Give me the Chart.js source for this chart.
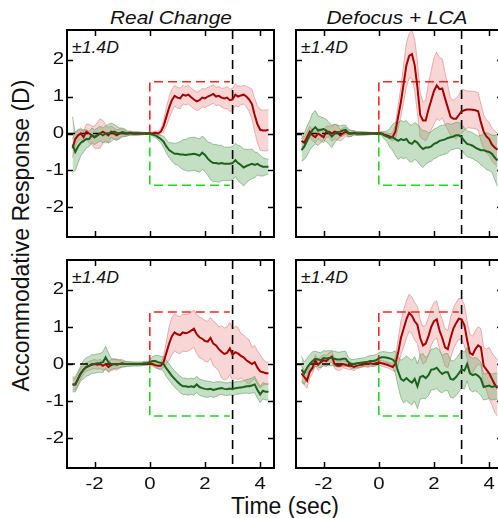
<!DOCTYPE html>
<html>
<head>
<meta charset="utf-8">
<script src="https://cdn.jsdelivr.net/npm/chart.js@4.4.1/dist/chart.umd.min.js"></script>
<style>
  html, body { margin: 0; padding: 0; background: #fff; overflow: hidden; }
  body { width: 498px; height: 518px; position: relative; font-family: "Liberation Sans", Arial, sans-serif; }
  canvas { position: absolute; }
  .txt { position: absolute; color: #111; white-space: nowrap; line-height: 1; }
  .title { font-style: italic; font-size: 19px; text-align: center; width: 220px; transform: scaleX(1.1); }
  .amp { font-style: italic; font-size: 16px; transform-origin: left top; transform: scaleX(1.1); }
  .axis { font-size: 23px; }
</style>
</head>
<body>
<div class="txt title" style="left:61px; top:8px;">Real Change</div>
<div class="txt title" style="left:287px; top:8px;">Defocus + LCA</div>
<div class="txt amp" style="left:72px; top:40px;">±1.4D</div>
<div class="txt amp" style="left:301px; top:40px;">±1.4D</div>
<div class="txt amp" style="left:72px; top:270px;">±1.4D</div>
<div class="txt amp" style="left:301px; top:270px;">±1.4D</div>
<div class="txt axis" style="left:-129px; top:230px; width:300px; text-align:center; transform: rotate(-90deg);">Accommodative Response (D)</div>
<div class="txt axis" style="left:185px; top:495px; width:200px; text-align:center;">Time (sec)</div>

<canvas id="p1" width="251" height="239" style="left:27px; top:26px;"></canvas>
<canvas id="p2" width="251" height="239" style="left:256px; top:26px;"></canvas>
<canvas id="p3" width="251" height="240" style="left:27px; top:256px;"></canvas>
<canvas id="p4" width="251" height="240" style="left:256px; top:256px;"></canvas>

<script>
// time axis (sec), one sample every 0.1 s
const TIME = [
  -2.8, -2.7, -2.6, -2.5, -2.4, -2.3, -2.2, -2.1,
  -2.0, -1.9, -1.8, -1.7, -1.6, -1.5, -1.4, -1.3, -1.2, -1.1,
  -1.0, -0.9, -0.8, -0.7, -0.6, -0.5, -0.4, -0.3, -0.2, -0.1,
  0.0, 0.1, 0.2, 0.3, 0.4, 0.5, 0.6, 0.7, 0.8, 0.9,
  1.0, 1.1, 1.2, 1.3, 1.4, 1.5, 1.6, 1.7, 1.8, 1.9,
  2.0, 2.1, 2.2, 2.3, 2.4, 2.5, 2.6, 2.7, 2.8, 2.9,
  3.0, 3.1, 3.2, 3.3, 3.4, 3.5, 3.6, 3.7, 3.8, 3.9,
  4.0, 4.1, 4.2, 4.3
];

const X_TICKS = [-2, 0, 2, 4];
const Y_TICKS = [-2, -1, 0, 1, 2];

// stimulus step
const STEP_ON = 0;
const STEP_OFF = 3;
const STEP_AMP = 1.4;
const BOX_END = 2.9;

// Real Change, top
const P1_RED = [
  -0.4, -0.15, -0.05, 0.0, -0.1, 0.05, 0.0, -0.05,
  -0.1, -0.05, 0.0, 0.05, 0.0, -0.05, 0.05, 0.0, -0.05, 0.0,
  0.03, 0.0, 0.0, 0.02, 0.0, 0.0, 0.0, 0.0, 0.0, 0.0,
  0.0, 0.0, 0.02, 0.0, 0.05, 0.2, 0.45, 0.7, 0.9, 1.02,
  0.97, 0.95, 1.05, 1.02, 1.05, 0.98, 0.92, 0.87, 0.9, 0.97,
  0.95, 1.0, 1.03, 1.07, 1.0, 1.02, 0.97, 0.95, 0.97, 0.9,
  0.92, 1.05, 1.0, 1.03, 1.05, 1.0, 0.92, 0.8, 0.5, 0.25,
  0.1, 0.08, 0.08, 0.1
];
const P1_RED_SEM = [
  0.25, 0.2, 0.15, 0.15, 0.15, 0.2, 0.25, 0.25,
  0.3, 0.35, 0.4, 0.3, 0.25, 0.2, 0.15, 0.15, 0.15, 0.12,
  0.1, 0.08, 0.06, 0.05, 0.05, 0.05, 0.05, 0.04, 0.03, 0.03,
  0.02, 0.04, 0.05, 0.06, 0.08, 0.15, 0.25, 0.3, 0.3, 0.28,
  0.28, 0.28, 0.25, 0.25, 0.25, 0.25, 0.25, 0.25, 0.25, 0.25,
  0.25, 0.25, 0.25, 0.25, 0.25, 0.25, 0.25, 0.28, 0.3, 0.3,
  0.3, 0.3, 0.28, 0.25, 0.25, 0.28, 0.32, 0.4, 0.45, 0.5,
  0.55, 0.55, 0.55, 0.55
];
const P1_GREEN = [
  -0.3, -0.5, -0.35, -0.25, -0.2, -0.15, -0.15, -0.05,
  -0.1, -0.05, 0.0, -0.05, 0.0, 0.0, 0.03, 0.05, 0.02, 0.0,
  0.03, 0.02, 0.0, 0.0, 0.0, 0.0, 0.0, 0.0, 0.0, 0.0,
  0.0, -0.03, -0.05, -0.1, -0.15, -0.22, -0.35, -0.45, -0.5, -0.55,
  -0.55, -0.57, -0.57, -0.58, -0.57, -0.56, -0.55, -0.57, -0.6, -0.52,
  -0.58, -0.68, -0.75, -0.8, -0.8, -0.82, -0.8, -0.82, -0.82, -0.82,
  -0.8, -0.72, -0.8, -0.85, -0.92, -0.88, -0.85, -0.82, -0.85, -0.82,
  -0.87, -0.9, -0.9, -0.9
];
const P1_GREEN_SEM = [
  0.75, 0.5, 0.45, 0.35, 0.3, 0.25, 0.2, 0.2,
  0.2, 0.2, 0.2, 0.2, 0.2, 0.25, 0.25, 0.2, 0.18, 0.15,
  0.12, 0.1, 0.06, 0.05, 0.04, 0.04, 0.03, 0.03, 0.03, 0.02,
  0.02, 0.04, 0.06, 0.08, 0.1, 0.15, 0.18, 0.2, 0.25, 0.28,
  0.3, 0.35, 0.4, 0.42, 0.45, 0.45, 0.45, 0.45, 0.45, 0.45,
  0.45, 0.45, 0.5, 0.5, 0.5, 0.5, 0.48, 0.45, 0.45, 0.45,
  0.45, 0.45, 0.48, 0.5, 0.5, 0.45, 0.42, 0.4, 0.35, 0.3,
  0.28, 0.25, 0.22, 0.2
];

// Defocus + LCA, top
const P2_RED = [
  -0.2, -0.25, -0.1, 0.05, -0.05, -0.1, 0.0, -0.05,
  -0.1, 0.05, 0.05, 0.0, 0.05, 0.03, -0.05, 0.0, 0.05, 0.0,
  0.0, 0.02, 0.0, 0.0, 0.0, 0.0, 0.0, 0.0, 0.0, 0.0,
  0.0, 0.0, -0.03, -0.05, -0.08, -0.1, 0.05, 0.45, 0.85, 1.35,
  1.85, 2.1, 2.15, 1.85, 1.25, 0.5, 0.35, 0.35, 0.65, 0.9,
  1.15, 1.3, 1.2, 1.22, 0.95, 0.7, 0.45, 0.4, 0.4, 0.5,
  0.6, 0.63, 0.65, 0.65, 0.64, 0.63, 0.6, 0.3, 0.05, -0.08,
  -0.15, -0.3, -0.38, -0.44
];
const P2_RED_SEM = [
  0.15, 0.15, 0.15, 0.15, 0.15, 0.15, 0.15, 0.15,
  0.15, 0.15, 0.15, 0.2, 0.2, 0.2, 0.15, 0.15, 0.12, 0.1,
  0.08, 0.06, 0.05, 0.05, 0.05, 0.04, 0.04, 0.03, 0.03, 0.02,
  0.02, 0.04, 0.05, 0.06, 0.08, 0.1, 0.2, 0.3, 0.4, 0.5,
  0.6, 0.6, 0.65, 0.7, 0.7, 0.6, 0.5, 0.55, 0.7, 0.8,
  0.9, 0.9, 0.85, 0.8, 0.7, 0.6, 0.5, 0.5, 0.55, 0.55,
  0.6, 0.55, 0.5, 0.5, 0.5, 0.5, 0.5, 0.5, 0.45, 0.45,
  0.45, 0.45, 0.45, 0.45
];
const P2_GREEN = [
  -0.45, -0.35, -0.2, -0.05, 0.1, 0.17, 0.08, 0.1,
  0.12, 0.08, 0.0, -0.08, 0.0, 0.03, 0.05, 0.08, 0.1, 0.02,
  0.0, 0.02, 0.0, 0.0, 0.0, 0.0, 0.0, 0.0, 0.0, 0.0,
  0.0, 0.0, -0.05, -0.08, -0.12, -0.1, -0.15, -0.2, -0.15, -0.18,
  -0.15, -0.25, -0.28, -0.2, -0.25, -0.35, -0.42, -0.38, -0.38, -0.35,
  -0.28, -0.25, -0.2, -0.18, -0.16, -0.12, -0.1, -0.08, -0.05, -0.05,
  -0.1, -0.2, -0.28, -0.3, -0.33, -0.38, -0.42, -0.45, -0.45, -0.48,
  -0.5, -0.55, -0.65, -0.73
];
const P2_GREEN_SEM = [
  0.3, 0.35, 0.4, 0.4, 0.45, 0.45, 0.4, 0.35,
  0.3, 0.3, 0.3, 0.3, 0.25, 0.2, 0.15, 0.15, 0.12, 0.1,
  0.08, 0.05, 0.05, 0.05, 0.04, 0.04, 0.03, 0.03, 0.03, 0.02,
  0.02, 0.05, 0.1, 0.15, 0.25, 0.35, 0.45, 0.5, 0.5, 0.5,
  0.5, 0.5, 0.5, 0.5, 0.5, 0.5, 0.5, 0.45, 0.4, 0.4,
  0.4, 0.4, 0.4, 0.4, 0.4, 0.4, 0.35, 0.35, 0.35, 0.35,
  0.35, 0.35, 0.35, 0.35, 0.35, 0.35, 0.35, 0.4, 0.45, 0.5,
  0.5, 0.5, 0.6, 0.7
];

// Real Change, bottom
const P3_RED = [
  -0.55, -0.55, -0.4, -0.25, -0.15, -0.08, -0.05, -0.02,
  0.0, -0.02, 0.0, -0.05, 0.0, -0.08, -0.03, 0.0, -0.02, 0.0,
  0.02, 0.0, 0.0, 0.0, 0.0, 0.0, 0.0, 0.0, 0.0, 0.0,
  0.0, 0.0, -0.03, -0.05, -0.05, 0.05, 0.3, 0.55, 0.75, 0.85,
  0.8, 0.78, 0.85, 0.83, 0.85, 0.9, 0.95, 0.8, 0.72, 0.68,
  0.62, 0.6, 0.7, 0.55, 0.5, 0.4, 0.33, 0.27, 0.3, 0.42,
  0.25, 0.32, 0.28, 0.22, 0.18, 0.1, 0.05, 0.0, 0.05, -0.1,
  -0.2, -0.22, -0.25, -0.25
];
const P3_RED_SEM = [
  0.15, 0.15, 0.15, 0.15, 0.12, 0.12, 0.12, 0.12,
  0.12, 0.12, 0.12, 0.12, 0.15, 0.15, 0.15, 0.15, 0.15, 0.12,
  0.1, 0.08, 0.06, 0.05, 0.05, 0.05, 0.05, 0.04, 0.04, 0.03,
  0.02, 0.06, 0.08, 0.08, 0.08, 0.15, 0.3, 0.45, 0.5, 0.5,
  0.5, 0.5, 0.5, 0.5, 0.5, 0.5, 0.5, 0.52, 0.55, 0.55,
  0.55, 0.55, 0.55, 0.6, 0.6, 0.6, 0.7, 0.7, 0.7, 0.7,
  0.7, 0.7, 0.7, 0.6, 0.6, 0.6, 0.6, 0.45, 0.45, 0.45,
  0.45, 0.35, 0.3, 0.3
];
const P3_GREEN = [
  -0.55, -0.55, -0.4, -0.25, -0.15, -0.08, -0.05, 0.0,
  0.0, 0.02, 0.03, 0.05, 0.18, 0.05, 0.0, 0.0, 0.0, 0.0,
  0.0, 0.0, 0.0, 0.0, 0.0, 0.0, 0.0, 0.0, 0.02, 0.02,
  0.05, 0.08, 0.08, 0.05, 0.03, 0.0, -0.12, -0.22, -0.32, -0.4,
  -0.48, -0.55, -0.6, -0.6, -0.62, -0.6, -0.62, -0.55, -0.62, -0.65,
  -0.67, -0.68, -0.67, -0.7, -0.68, -0.66, -0.65, -0.67, -0.68, -0.66,
  -0.68, -0.65, -0.64, -0.63, -0.62, -0.6, -0.6, -0.58, -0.55, -0.7,
  -0.82, -0.72, -0.75, -0.75
];
const P3_GREEN_SEM = [
  0.2, 0.2, 0.2, 0.2, 0.25, 0.25, 0.25, 0.25,
  0.25, 0.25, 0.25, 0.28, 0.3, 0.25, 0.15, 0.12, 0.12, 0.1,
  0.08, 0.07, 0.06, 0.06, 0.05, 0.05, 0.05, 0.05, 0.05, 0.05,
  0.05, 0.12, 0.15, 0.18, 0.18, 0.2, 0.22, 0.22, 0.22, 0.22,
  0.22, 0.22, 0.22, 0.22, 0.22, 0.22, 0.22, 0.22, 0.22, 0.22,
  0.22, 0.22, 0.2, 0.2, 0.2, 0.18, 0.17, 0.17, 0.17, 0.17,
  0.17, 0.17, 0.17, 0.17, 0.17, 0.18, 0.2, 0.2, 0.22, 0.22,
  0.22, 0.22, 0.22, 0.22
];

// Defocus + LCA, bottom
const P4_RED = [
  -0.25, -0.35, -0.45, -0.2, -0.1, 0.1, -0.02, 0.05,
  0.1, 0.08, 0.15, 0.2, 0.0, -0.05, -0.05, 0.0, -0.02, -0.05,
  -0.05, -0.08, -0.05, -0.03, -0.02, 0.0, 0.0, 0.02, 0.0, 0.02,
  0.04, 0.02, 0.0, -0.02, -0.05, -0.08, 0.0, 0.3, 0.7, 0.95,
  1.2, 1.38, 1.3, 1.15, 1.05, 0.7, 0.5, 0.55, 0.75, 1.0,
  1.15, 1.2, 0.9, 0.7, 0.45, 0.4, 0.7, 0.95, 1.1, 1.22,
  1.2, 1.05, 0.65, 0.3, 0.25, 0.4, 0.5, 0.45, -0.05, -0.15,
  -0.25, -0.4, -0.55, -0.65
];
const P4_RED_SEM = [
  0.2, 0.2, 0.2, 0.18, 0.15, 0.15, 0.15, 0.15,
  0.15, 0.15, 0.15, 0.15, 0.12, 0.12, 0.12, 0.1, 0.1, 0.1,
  0.1, 0.1, 0.08, 0.08, 0.06, 0.06, 0.06, 0.06, 0.06, 0.05,
  0.05, 0.08, 0.08, 0.08, 0.08, 0.1, 0.2, 0.35, 0.45, 0.5,
  0.5, 0.5, 0.5, 0.5, 0.5, 0.5, 0.5, 0.5, 0.5, 0.5,
  0.5, 0.5, 0.5, 0.5, 0.5, 0.5, 0.55, 0.55, 0.55, 0.55,
  0.55, 0.55, 0.5, 0.5, 0.5, 0.5, 0.5, 0.5, 0.5, 0.55,
  0.7, 0.7, 0.75, 0.75
];
const P4_GREEN = [
  -0.15, -0.25, -0.1, 0.0, 0.08, 0.14, 0.12, 0.1,
  0.16, 0.15, 0.16, 0.16, 0.14, 0.12, 0.12, 0.14, 0.14, 0.05,
  0.0, 0.0, 0.02, 0.03, 0.04, 0.05, 0.06, 0.08, 0.08, 0.1,
  0.15, 0.18, 0.18, 0.17, 0.15, 0.12, 0.05, -0.2, -0.4, -0.45,
  -0.38, -0.45, -0.5, -0.4, -0.6, -0.35, -0.32, -0.38, -0.3, -0.15,
  -0.14, -0.1, -0.2, -0.27, -0.22, -0.22, -0.4, -0.42, -0.35, -0.25,
  -0.14, -0.18, 0.0, -0.25, -0.3, -0.27, -0.32, -0.4, -0.62, -0.6,
  -0.58, -0.62, -0.6, -0.6
];
const P4_GREEN_SEM = [
  0.35, 0.3, 0.25, 0.25, 0.25, 0.2, 0.2, 0.2,
  0.2, 0.2, 0.2, 0.2, 0.2, 0.2, 0.2, 0.2, 0.2, 0.12,
  0.12, 0.12, 0.12, 0.12, 0.12, 0.12, 0.15, 0.15, 0.15, 0.15,
  0.15, 0.15, 0.15, 0.15, 0.15, 0.2, 0.3, 0.4, 0.5, 0.6,
  0.6, 0.6, 0.6, 0.6, 0.6, 0.6, 0.6, 0.55, 0.55, 0.55,
  0.55, 0.55, 0.55, 0.5, 0.5, 0.5, 0.5, 0.5, 0.5, 0.5,
  0.5, 0.5, 0.45, 0.45, 0.45, 0.45, 0.45, 0.45, 0.35, 0.35,
  0.35, 0.35, 0.35, 0.35
];

const RED_LINE = '#a80000';
const RED_EDGE = 'rgba(215, 120, 120, 0.55)';
const RED_FILL = 'rgba(238, 140, 140, 0.36)';
const GREEN_LINE = '#1c621c';
const GREEN_EDGE = 'rgba(90, 150, 90, 0.55)';
const GREEN_FILL = 'rgba(95, 165, 95, 0.36)';

const X_MIN = -3, X_MAX = 4.5;
const Y_MIN = -2.8, Y_MAX = 2.8;

const series = (vals) => TIME.map((t, i) => ({ x: t, y: vals[i] }));
const bandHi = (m, s) => TIME.map((t, i) => ({ x: t, y: m[i] + s[i] }));
const bandLo = (m, s) => TIME.map((t, i) => ({ x: t, y: m[i] - s[i] }));

// frame with inward ticks on all four sides, plus tick labels
const framePlugin = {
    id: 'frame',
    afterDatasetsDraw(chart, args, opts) {
        const { ctx, chartArea: a, scales: { x, y } } = chart;
        ctx.save();
        ctx.strokeStyle = '#000';
        ctx.lineWidth = 2;
        ctx.strokeRect(a.left, a.top, a.right - a.left, a.bottom - a.top);

        ctx.lineWidth = 1.5;
        ctx.beginPath();
        X_TICKS.forEach(v => {
            const px = Math.round(x.getPixelForValue(v)) + 0.5;
            ctx.moveTo(px, a.bottom); ctx.lineTo(px, a.bottom - 6);
            ctx.moveTo(px, a.top); ctx.lineTo(px, a.top + 6);
        });
        Y_TICKS.forEach(v => {
            const py = Math.round(y.getPixelForValue(v)) + 0.5;
            ctx.moveTo(a.left, py); ctx.lineTo(a.left + 6, py);
            ctx.moveTo(a.right, py); ctx.lineTo(a.right - 6, py);
        });
        ctx.stroke();

        ctx.fillStyle = '#111';
        ctx.font = '17px "Liberation Sans", Arial, sans-serif';
        if (opts.yLabels) {
            ctx.textAlign = 'right';
            ctx.textBaseline = 'middle';
            Y_TICKS.forEach(v => {
                ctx.save();
                ctx.translate(a.left - 3, y.getPixelForValue(v));
                ctx.scale(1.2, 1);
                ctx.fillText(String(v), 0, 0);
                ctx.restore();
            });
        }
        if (opts.xLabels) {
            ctx.textAlign = 'center';
            ctx.textBaseline = 'middle';
            X_TICKS.forEach(v => {
                ctx.save();
                ctx.translate(x.getPixelForValue(v), a.bottom + 16);
                ctx.scale(1.2, 1);
                ctx.fillText(String(v), 0, 0);
                ctx.restore();
            });
        }
        ctx.restore();
    }
};

function makePanel(id, redMean, redSem, greenMean, greenSem, yLabels, xLabels) {
    const dashed = (pts, color, dash) => ({
        data: pts, borderColor: color, borderWidth: 1.6, borderDash: dash, order: 2, fill: false
    });
    return new Chart(document.getElementById(id), {
        type: 'line',
        data: {
            datasets: [
                { data: series(greenMean), borderColor: GREEN_LINE, borderWidth: 2, order: 0, fill: false },
                { data: series(redMean), borderColor: RED_LINE, borderWidth: 2, order: 1, fill: false },
                dashed([{ x: X_MIN, y: 0 }, { x: STEP_ON, y: 0 }], '#000', [8, 5]),
                dashed([{ x: STEP_OFF, y: Y_MAX }, { x: STEP_OFF, y: Y_MIN }], '#000', [9, 6]),
                dashed([{ x: STEP_ON, y: 0 }, { x: STEP_ON, y: STEP_AMP }, { x: BOX_END, y: STEP_AMP }], '#ff2424', [9, 5]),
                dashed([{ x: STEP_ON, y: 0 }, { x: STEP_ON, y: -STEP_AMP }, { x: BOX_END, y: -STEP_AMP }], '#20d820', [9, 5]),
                { data: bandHi(greenMean, greenSem), borderColor: GREEN_EDGE, borderWidth: 1, order: 3, fill: false },
                { data: bandLo(greenMean, greenSem), borderColor: GREEN_EDGE, borderWidth: 1, order: 3,
                  fill: '-1', backgroundColor: GREEN_FILL },
                { data: bandHi(redMean, redSem), borderColor: RED_EDGE, borderWidth: 1, order: 4, fill: false },
                { data: bandLo(redMean, redSem), borderColor: RED_EDGE, borderWidth: 1, order: 4,
                  fill: '-1', backgroundColor: RED_FILL }
            ]
        },
        options: {
            responsive: false,
            animation: false,
            events: [],
            layout: { padding: { left: 40, right: 4, top: 4, bottom: 28 } },
            elements: { point: { radius: 0 }, line: { tension: 0 } },
            plugins: {
                legend: { display: false },
                tooltip: { enabled: false },
                frame: { yLabels: yLabels, xLabels: xLabels }
            },
            scales: {
                x: { type: 'linear', min: X_MIN, max: X_MAX, display: false },
                y: { type: 'linear', min: Y_MIN, max: Y_MAX, display: false }
            }
        },
        plugins: [framePlugin]
    });
}

makePanel('p1', P1_RED, P1_RED_SEM, P1_GREEN, P1_GREEN_SEM, true, false);
makePanel('p2', P2_RED, P2_RED_SEM, P2_GREEN, P2_GREEN_SEM, false, false);
makePanel('p3', P3_RED, P3_RED_SEM, P3_GREEN, P3_GREEN_SEM, true, true);
makePanel('p4', P4_RED, P4_RED_SEM, P4_GREEN, P4_GREEN_SEM, false, true);
</script>
</body>
</html>
